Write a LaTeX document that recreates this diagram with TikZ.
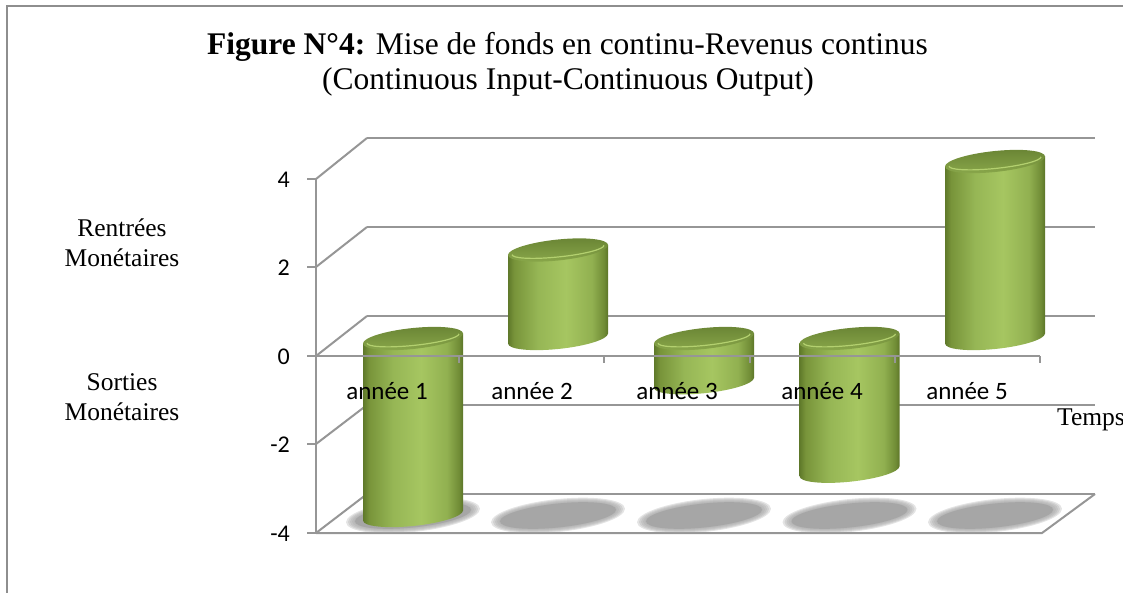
\documentclass[tikz,border=0pt]{standalone}
\usepackage{fontspec}
\setmainfont{Liberation Serif}
\newfontfamily\calibri{Carlito}
\definecolor{gridc}{RGB}{150,150,150}
\definecolor{bordc}{RGB}{142,142,142}
\definecolor{shadc}{RGB}{166,166,166}
\definecolor{cA}{HTML}{5F792A}
\definecolor{cB}{HTML}{78943A}
\definecolor{cC}{HTML}{96B655}
\definecolor{cD}{HTML}{A6C661}
\definecolor{cE}{HTML}{91B050}
\definecolor{cF}{HTML}{708C36}
\definecolor{cG}{HTML}{5C7528}
\definecolor{topA}{HTML}{6C8736}
\definecolor{topB}{HTML}{8AA84B}
\definecolor{rimc}{HTML}{B3D06F}
\pgfdeclarehorizontalshading{cylbody}{100bp}{color(0bp)=(cA); color(25bp)=(cA); color(28bp)=(cB); color(40bp)=(cC); color(54bp)=(cD); color(67bp)=(cE); color(73bp)=(cF); color(75bp)=(cG); color(100bp)=(cG)}
\tikzset{
  grid/.style={draw=gridc, line width=2pt},
  cat/.style={font=\calibri\fontsize{25}{30}\selectfont, inner sep=0pt, anchor=base},
  num/.style={font=\calibri\fontsize{24}{29}\selectfont, inner sep=0pt, anchor=east},
  side/.style={font=\fontsize{25.5}{30}\selectfont, inner sep=0pt, anchor=base},
  ttl/.style={font=\fontsize{31.5}{36}\selectfont, inner sep=0pt, anchor=base},
}
\newcommand\drawcyl[3]{%
  \begin{scope}[shift={(#1,0)}, yslant=0.1]
    \shade[shading=cylbody] (-50,#2) -- (-50,#3) arc[start angle=180, end angle=0, x radius=50, y radius=10.5] -- (50,#2) -- cycle;
    \shade[top color=topA, bottom color=topB] (0,#2) ellipse[x radius=50, y radius=10.5];
    \draw[rimc, line width=1.2pt] (-46,#2) arc[start angle=180, end angle=0, x radius=46, y radius=7];
  \end{scope}}
\newcommand\drawshadow[1]{%
  \begin{scope}[shift={(#1,0)}, yslant=0.1]
    \foreach \k in {0,...,4}
      \fill[shadc, opacity=0.3] (0,515.5) ellipse[x radius={67-2*\k}, y radius={16.5-\k}];
    \fill[shadc] (0,515.5) ellipse[x radius=58, y radius=12];
  \end{scope}}
\begin{document}
\begin{tikzpicture}[x=1pt, y=-1pt]
\useasboundingbox (0,0) rectangle (1123,593);
\clip (0,0) rectangle (1123,593);
% frame
\draw[bordc, line width=2pt] (7,600) -- (7,6) -- (1130,6);
% title
\node[ttl] (t1) at (567.5,55) {\textbf{Figure N°4:} Mise de fonds en continu-Revenus continus};
\node[ttl] (t2) at (568,90) {(Continuous Input-Continuous Output)};
% back wall gridlines
\foreach \yb in {138,227,316,405,494} \draw[grid] (367,\yb) -- (1095,\yb);
% side wall diagonals
\foreach \yf/\yb in {179/138,267/227,356/316,444/405,533/494} \draw[grid] (316,\yf) -- (367,\yb);
% floor
\draw[grid] (316,533) -- (1042,533) -- (1095,494);
% shadows
\foreach \cx in {413,558,704,849.5,995} \drawshadow{\cx};
% cylinders
\drawcyl{413}{338.5}{515.5}
\drawcyl{558}{250}{338.5}
\drawcyl{704}{338.5}{382.75}
\drawcyl{849.5}{338.5}{471.25}
\drawcyl{995}{161.5}{338.5}
% value axis
\draw[grid] (316,179) -- (316,533);
\foreach \yf in {179,267,356,444,533} \draw[grid] (307,\yf) -- (316,\yf);
% category axis
\draw[grid] (316,356) -- (1040,356);
\foreach \xt in {459,604,750,895,1040} \draw[grid] (\xt,356) -- (\xt,363);
% value labels
\node[num] (v4) at (290,180) {4};
\node[num] (v2) at (290,268) {2};
\node[num] (v0) at (290,357) {0};
\node[num] (vm2) at (290,445) {-2};
\node[num] (vm4) at (290,534) {-4};
% category labels
\node[cat] (c1) at (387,399) {année 1};
\node[cat] (c2) at (532,399) {année 2};
\node[cat] (c3) at (677,399) {année 3};
\node[cat] (c4) at (822,399) {année 4};
\node[cat] (c5) at (967,399) {année 5};
% side labels
\node[side] (r1) at (122,237) {Rentrées};
\node[side] (r2) at (122,267) {Monétaires};
\node[side] (s1) at (122,390) {Sorties};
\node[side] (s2) at (122,420) {Monétaires};
\node[side, anchor=base west] (tp) at (1057,425) {Temps};
\end{tikzpicture}
\end{document}
